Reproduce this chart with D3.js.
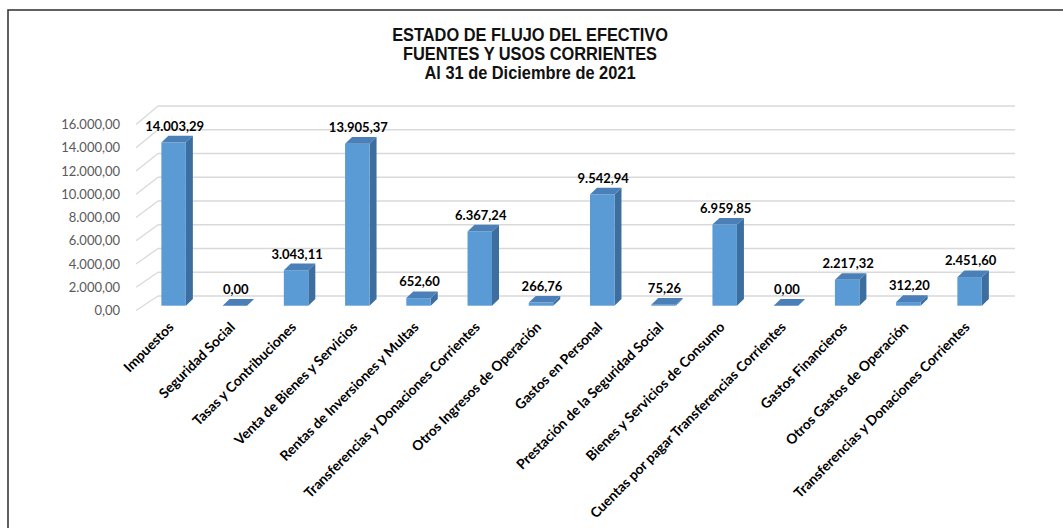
<!DOCTYPE html>
<html><head><meta charset="utf-8">
<script src="https://cdn.jsdelivr.net/npm/d3@7"></script>
<style>html,body{margin:0;padding:0;background:#fff;overflow:hidden;}svg{display:block;}</style>
</head><body>
<svg id="chart" width="1063" height="528"></svg>
<script>
const titleLines = ["ESTADO DE FLUJO DEL EFECTIVO", "FUENTES Y USOS CORRIENTES", "Al 31 de Diciembre de 2021"];
const categories = [
  "Impuestos", "Seguridad Social", "Tasas y Contribuciones", "Venta de Bienes y Servicios",
  "Rentas de Inversiones y Multas", "Transferencias y Donaciones Corrientes", "Otros Ingresos de Operación",
  "Gastos en Personal", "Prestación de la Seguridad Social", "Bienes y Servicios de Consumo",
  "Cuentas por pagar Transferencias Corrientes", "Gastos Financieros", "Otros Gastos de Operación",
  "Transferencias y Donaciones Corrientes "
];
const values = [14003.29, 0, 3043.11, 13905.37, 652.60, 6367.24, 266.76, 9542.94, 75.26, 6959.85, 0, 2217.32, 312.20, 2451.60];
const tickValues = [0, 2000, 4000, 6000, 8000, 10000, 12000, 14000, 16000];

const svg = d3.select("#chart");
const loc = d3.formatLocale({decimal: ",", thousands: ".", grouping: [3], currency: ["", ""]});
const fmt = loc.format(",.2f");

// border
svg.append("rect").attr("x", 8).attr("y", 10).attr("width", 1100).attr("height", 600)
  .attr("fill", "none").attr("stroke", "#3a3a3a").attr("stroke-width", 1.6);

// title
svg.append("g").attr("transform", "translate(530,0) scale(0.91,1)")
  .selectAll("text").data(titleLines).join("text")
  .attr("x", 0).attr("y", (d, i) => 40.7 + i * 19.3)
  .attr("text-anchor", "middle")
  .style("font-family", "'Liberation Sans', Arial, sans-serif")
  .style("font-weight", "bold").style("font-size", "18px")
  .attr("fill", "#111")
  .text(d => d);

// scales
const yFront = d3.scaleLinear().domain([0, 16000]).range([310.5, 124.5]);
const yBack = d3.scaleLinear().domain([0, 16000]).range([296, 106]);
const yBar = d3.scaleLinear().domain([0, 16000]).range([305.7, 119.3]);
const x = d3.scaleBand().domain(categories.map((c, i) => i)).range([143, 143 + 61.23 * 14]).paddingInner(0.6).paddingOuter(0.3);
const sideX0 = 136, backX0 = 158, backX1 = 1015;
const dx = 7, dy = -6.7;

// gridlines back wall
const grid = svg.append("g");
grid.selectAll("line.back").data(tickValues).join("line")
  .attr("x1", backX0).attr("x2", backX1)
  .attr("y1", d => yBack(d)).attr("y2", d => yBack(d))
  .attr("stroke", "#d9d9d9").attr("stroke-width", 1.3);
grid.selectAll("line.side").data(tickValues).join("line")
  .attr("x1", sideX0).attr("x2", backX0)
  .attr("y1", d => yFront(d)).attr("y2", d => yBack(d))
  .attr("stroke", "#d9d9d9").attr("stroke-width", 1.3);

// y tick labels
svg.append("g").selectAll("text").data(tickValues).join("text")
  .attr("x", 120).attr("y", d => yFront(d)).attr("dy", "0.35em")
  .attr("text-anchor", "end")
  .style("font-family", "Lato, sans-serif").style("font-size", "13px")
  .attr("fill", "#595959")
  .text(d => fmt(d));

// bars
const bars = svg.append("g").selectAll("g").data(values).join("g");
const bw = x.bandwidth();
const base = yBar(0);
bars.each(function(v, i) {
  const g = d3.select(this);
  const x0 = x(i), x1 = x0 + bw, yt = yBar(v);
  if (v > 0) {
    g.append("path").attr("d", `M${x1},${base}L${x1 + dx},${base + dy}L${x1 + dx},${yt + dy}L${x1},${yt}Z`)
      .attr("fill", "#3c6e9f");
    g.append("rect").attr("x", x0).attr("y", yt).attr("width", bw).attr("height", base - yt)
      .attr("fill", "#5b9bd5");
  }
  g.append("path").attr("d", `M${x0},${yt}L${x1},${yt}L${x1 + dx},${yt + dy}L${x0 + dx},${yt + dy}Z`)
    .attr("fill", "#4a7fb8");
});

// value labels
svg.append("g").selectAll("text").data(values).join("text")
  .attr("x", (d, i) => x(i) + bw / 2 + 1)
  .attr("y", d => yBar(d) + dy - 5)
  .attr("text-anchor", "middle")
  .style("font-family", "Lato, sans-serif").style("font-weight", "bold").style("font-size", "13px")
  .attr("fill", "#000")
  .text(d => fmt(d));

// category labels
svg.append("g").selectAll("text").data(categories).join("text")
  .attr("transform", (d, i) => `translate(${x(i) + bw / 2 + 1},${328}) rotate(-45)`)
  .attr("text-anchor", "end")
  .style("font-family", "Lato, sans-serif").style("font-weight", "bold").style("font-size", "13.8px")
  .attr("fill", "#000")
  .text(d => d.trim());
</script>
</body></html>
